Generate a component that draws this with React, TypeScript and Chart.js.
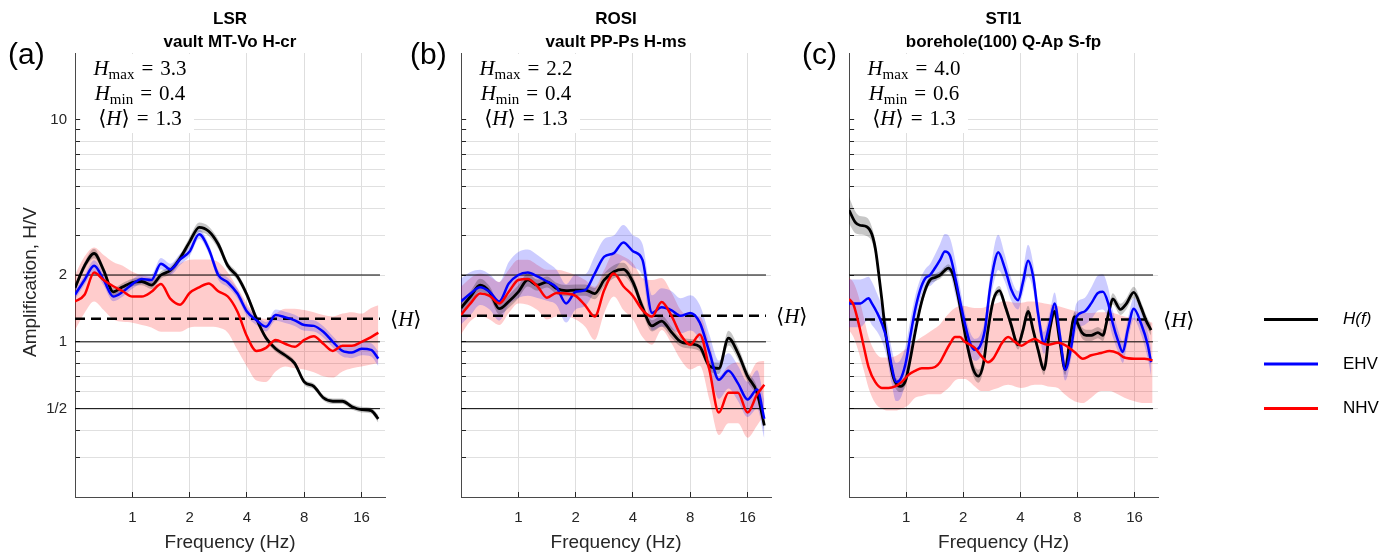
import React, { useEffect, useRef } from "react";
import { Chart, registerables } from "chart.js";
Chart.register(...registerables);

// ---------------- data ----------------
const gridFreq = [0.5, 0.561, 0.63, 0.707, 0.794, 0.891, 1.0, 1.122, 1.26, 1.414, 1.587, 1.782, 2.0, 2.245, 2.52, 2.828, 3.175, 3.564, 4.0, 4.49, 5.04, 5.66, 6.35, 7.13, 8.0, 8.98, 10.08, 11.31, 12.7, 14.25, 16.0, 17.96, 19.6];

// panel (a) LSR
const aBlack = [1.75, 2.2, 2.5, 2.1, 1.68, 1.77, 1.85, 1.87, 1.8, 2.0, 2.1, 2.38, 2.82, 3.28, 3.15, 2.75, 2.2, 1.97, 1.63, 1.27, 1.04, 0.93, 0.87, 0.8, 0.66, 0.63, 0.56, 0.54, 0.54, 0.51, 0.495, 0.49, 0.45];
const aBlackSpread = [1.04, 1.04, 1.05, 1.04, 1.04, 1.04, 1.04, 1.04, 1.04, 1.04, 1.04, 1.04, 1.05, 1.05, 1.05, 1.05, 1.04, 1.04, 1.04, 1.04, 1.03, 1.03, 1.03, 1.03, 1.03, 1.03, 1.03, 1.03, 1.03, 1.03, 1.03, 1.03, 1.04];
const aBlue = [1.63, 1.9, 2.2, 1.9, 1.6, 1.68, 1.82, 1.92, 1.9, 2.25, 2.12, 2.35, 2.55, 3.05, 2.62, 2.0, 1.85, 1.65, 1.37, 1.25, 1.17, 1.32, 1.29, 1.25, 1.19, 1.18, 1.11, 1.0, 0.91, 0.895, 0.93, 0.92, 0.84];
const aBlueSpread = [1.05, 1.05, 1.06, 1.06, 1.05, 1.05, 1.05, 1.05, 1.06, 1.06, 1.06, 1.06, 1.05, 1.05, 1.05, 1.05, 1.05, 1.05, 1.05, 1.05, 1.05, 1.06, 1.06, 1.06, 1.06, 1.06, 1.06, 1.06, 1.06, 1.06, 1.07, 1.07, 1.08];
const aRed = [1.52, 1.63, 2.05, 1.9, 1.78, 1.69, 1.6, 1.6, 1.68, 1.82, 1.56, 1.47, 1.66, 1.76, 1.83, 1.69, 1.6, 1.37, 1.06, 0.91, 0.94, 1.02, 0.98, 0.95, 1.02, 1.06, 0.98, 0.91, 0.96, 0.96, 1.0, 1.05, 1.1];
const aRedLo = [1.13, 1.35, 1.52, 1.39, 1.26, 1.23, 1.22, 1.19, 1.16, 1.11, 1.11, 1.11, 1.16, 1.17, 1.17, 1.16, 1.1, 0.92, 0.775, 0.67, 0.66, 0.735, 0.775, 0.76, 0.75, 0.73, 0.7, 0.69, 0.735, 0.76, 0.775, 0.79, 0.8];
const aRedHi = [2.0, 2.42, 2.66, 2.46, 2.29, 2.2, 2.07, 2.0, 1.96, 2.0, 2.1, 2.25, 2.34, 2.35, 2.35, 2.29, 2.05, 1.75, 1.49, 1.31, 1.27, 1.34, 1.41, 1.41, 1.39, 1.36, 1.32, 1.3, 1.34, 1.36, 1.34, 1.42, 1.46];

// panel (b) ROSI
const bBlack = [1.42, 1.6, 1.8, 1.68, 1.41, 1.52, 1.68, 1.9, 1.8, 1.86, 1.74, 1.7, 1.71, 1.71, 1.65, 1.9, 2.07, 2.12, 1.86, 1.43, 1.18, 1.24, 1.11, 1.0, 0.98, 0.95, 0.78, 0.76, 1.04, 0.89, 0.7, 0.59, 0.42];
const bBlackSpread = [1.06, 1.06, 1.07, 1.06, 1.06, 1.07, 1.07, 1.07, 1.06, 1.06, 1.06, 1.06, 1.06, 1.06, 1.06, 1.07, 1.07, 1.07, 1.06, 1.06, 1.06, 1.06, 1.06, 1.05, 1.05, 1.05, 1.05, 1.06, 1.08, 1.07, 1.06, 1.06, 1.06];
const bBlue = [1.52, 1.65, 1.76, 1.68, 1.52, 1.83, 2.0, 2.05, 1.97, 1.87, 1.76, 1.49, 1.68, 1.71, 2.03, 2.42, 2.51, 2.8, 2.56, 2.34, 1.35, 1.43, 1.39, 1.31, 1.35, 1.22, 0.9, 0.675, 0.74, 0.65, 0.55, 0.61, 0.45];
const bBlueSpread = [1.27, 1.25, 1.2, 1.2, 1.22, 1.25, 1.27, 1.27, 1.25, 1.22, 1.2, 1.22, 1.2, 1.18, 1.2, 1.2, 1.2, 1.2, 1.18, 1.18, 1.2, 1.22, 1.22, 1.2, 1.2, 1.2, 1.2, 1.22, 1.2, 1.2, 1.2, 1.22, 1.22];
const bRed = [1.32, 1.49, 1.65, 1.61, 1.49, 1.68, 1.9, 1.92, 1.78, 1.58, 1.66, 1.65, 1.61, 1.46, 1.3, 1.71, 2.03, 1.78, 1.61, 1.39, 1.3, 1.51, 1.32, 1.075, 0.97, 1.08, 0.75, 0.48, 0.59, 0.59, 0.48, 0.58, 0.64];
const bRedLo = [1.08, 1.24, 1.31, 1.26, 1.19, 1.35, 1.49, 1.47, 1.39, 1.26, 1.3, 1.3, 1.26, 1.17, 1.02, 1.35, 1.6, 1.39, 1.26, 1.05, 0.97, 1.13, 0.99, 0.83, 0.75, 0.78, 0.55, 0.38, 0.43, 0.43, 0.37, 0.42, 0.47];
const bRedHi = [1.77, 1.94, 2.03, 1.97, 1.86, 2.11, 2.34, 2.34, 2.22, 2.11, 2.11, 2.07, 2.0, 1.9, 1.77, 2.11, 2.51, 2.42, 2.26, 1.94, 1.9, 1.94, 1.68, 1.39, 1.3, 1.3, 0.99, 0.7, 0.78, 0.81, 0.7, 0.81, 0.82];

// panel (c) STI1
const cBlackFreq = [0.5, 0.54, 0.57, 0.62, 0.66, 0.69, 0.716, 0.745, 0.776, 0.808, 0.858, 0.93, 0.994, 1.05, 1.115, 1.185, 1.26, 1.337, 1.42, 1.51, 1.6, 1.67, 1.77, 1.88, 2.0, 2.125, 2.26, 2.4, 2.55, 2.7, 2.88, 3.1, 3.31, 3.56, 3.89, 4.13, 4.39, 4.67, 4.96, 5.33, 5.71, 6.06, 6.44, 6.9, 7.27, 7.72, 8.04, 8.44, 8.89, 9.45, 10.25, 10.88, 11.56, 12.28, 13.47, 14.43, 15.84, 17.3, 18.38, 19.53];
const cBlack = [3.92, 3.45, 3.35, 3.3, 3.05, 2.6, 2.05, 1.55, 1.13, 0.89, 0.69, 0.63, 0.67, 0.83, 1.1, 1.42, 1.71, 1.9, 1.95, 2.0, 2.1, 2.15, 2.0, 1.6, 1.2, 0.92, 0.75, 0.7, 0.79, 1.13, 1.54, 1.7, 1.47, 1.21, 0.97, 1.13, 1.37, 1.13, 0.92, 0.75, 1.13, 1.37, 1.02, 0.75, 1.0, 1.3, 1.2, 1.1, 1.07, 1.07, 1.1, 1.07, 1.3, 1.56, 1.4, 1.48, 1.67, 1.43, 1.25, 1.13];
const cBlackSpread = [1.15, 1.12, 1.1, 1.1, 1.08, 1.07, 1.06, 1.06, 1.06, 1.06, 1.06, 1.06, 1.06, 1.05, 1.05, 1.05, 1.05, 1.04, 1.04, 1.04, 1.04, 1.04, 1.04, 1.05, 1.05, 1.06, 1.07, 1.07, 1.06, 1.05, 1.05, 1.05, 1.05, 1.05, 1.05, 1.06, 1.06, 1.05, 1.05, 1.06, 1.05, 1.05, 1.05, 1.06, 1.05, 1.05, 1.05, 1.06, 1.06, 1.06, 1.06, 1.06, 1.06, 1.06, 1.06, 1.06, 1.06, 1.06, 1.06, 1.06];
const cBlueFreq = [0.5, 0.573, 0.634, 0.66, 0.701, 0.745, 0.792, 0.841, 0.883, 0.93, 0.994, 1.05, 1.115, 1.185, 1.26, 1.337, 1.42, 1.51, 1.6, 1.703, 1.81, 1.92, 2.04, 2.17, 2.3, 2.45, 2.6, 2.76, 2.93, 3.055, 3.31, 3.59, 3.89, 4.13, 4.39, 4.67, 4.96, 5.33, 5.71, 6.06, 6.44, 6.9, 7.42, 7.88, 8.72, 9.45, 10.25, 10.88, 11.56, 12.28, 13.04, 13.86, 14.72, 15.84, 17.3, 18.75, 19.53];
const cBlue = [1.49, 1.49, 1.57, 1.49, 1.36, 1.21, 1.02, 0.77, 0.66, 0.675, 0.8, 1.05, 1.39, 1.71, 1.93, 2.0, 2.15, 2.34, 2.55, 2.44, 1.97, 1.54, 1.21, 0.99, 0.92, 0.955, 1.13, 1.71, 2.3, 2.53, 2.15, 1.71, 1.54, 1.86, 2.32, 1.97, 1.34, 0.99, 1.21, 1.49, 1.09, 0.75, 0.95, 1.29, 1.37, 1.49, 1.66, 1.68, 1.51, 1.21, 1.02, 0.9, 1.13, 1.41, 1.21, 0.97, 0.81];
const cBlueSpread = [1.28, 1.28, 1.25, 1.25, 1.22, 1.2, 1.2, 1.2, 1.22, 1.22, 1.2, 1.18, 1.15, 1.12, 1.1, 1.12, 1.15, 1.18, 1.2, 1.2, 1.2, 1.15, 1.12, 1.12, 1.12, 1.12, 1.12, 1.15, 1.2, 1.2, 1.15, 1.12, 1.1, 1.12, 1.18, 1.15, 1.12, 1.12, 1.12, 1.12, 1.12, 1.12, 1.12, 1.15, 1.15, 1.18, 1.2, 1.2, 1.18, 1.15, 1.12, 1.12, 1.12, 1.12, 1.12, 1.15, 1.15];
const cRedFreq = [0.5, 0.528, 0.562, 0.597, 0.634, 0.687, 0.745, 0.808, 0.875, 0.949, 1.029, 1.115, 1.209, 1.31, 1.42, 1.51, 1.6, 1.703, 1.81, 1.92, 2.04, 2.17, 2.3, 2.5, 2.7, 2.876, 3.055, 3.18, 3.45, 3.74, 4.05, 4.39, 4.76, 5.16, 5.59, 6.31, 6.84, 7.72, 8.54, 9.45, 10.67, 11.8, 13.04, 14.14, 15.97, 18.0, 19.9];
const cRed = [1.56, 1.47, 1.21, 0.96, 0.77, 0.66, 0.62, 0.62, 0.63, 0.66, 0.71, 0.74, 0.76, 0.76, 0.77, 0.81, 0.89, 0.98, 1.05, 1.05, 1.0, 0.97, 0.94, 0.86, 0.81, 0.84, 0.92, 0.98, 1.05, 1.0, 0.96, 1.0, 1.03, 0.99, 0.97, 0.99, 0.97, 0.9, 0.84, 0.87, 0.89, 0.91, 0.89, 0.85, 0.84, 0.84, 0.825];
const cRedLo = [1.13, 1.05, 0.9, 0.75, 0.62, 0.53, 0.5, 0.49, 0.49, 0.5, 0.52, 0.56, 0.57, 0.58, 0.58, 0.58, 0.6, 0.63, 0.67, 0.68, 0.68, 0.66, 0.63, 0.6, 0.6, 0.61, 0.62, 0.63, 0.64, 0.63, 0.62, 0.63, 0.64, 0.64, 0.63, 0.62, 0.58, 0.54, 0.53, 0.56, 0.6, 0.6, 0.58, 0.56, 0.54, 0.53, 0.53];
const cRedHi = [1.95, 1.85, 1.6, 1.3, 1.05, 0.9, 0.85, 0.85, 0.86, 0.9, 0.95, 1.0, 1.05, 1.1, 1.15, 1.2, 1.28, 1.36, 1.42, 1.45, 1.45, 1.43, 1.42, 1.42, 1.45, 1.48, 1.5, 1.52, 1.52, 1.5, 1.5, 1.52, 1.52, 1.5, 1.48, 1.45, 1.42, 1.38, 1.35, 1.35, 1.36, 1.36, 1.33, 1.3, 1.28, 1.25, 1.22];

// axes / annotations
const xTickValues = [1, 2, 4, 8, 16];
const yTickValues = [0.3, 0.4, 0.5, 0.6, 0.7, 0.8, 0.9, 1, 2, 3, 4, 5, 6, 7, 8, 9, 10];
const yLabelled = [0.5, 1, 2, 10];
const referenceLevels = [0.5, 1, 2];
const meanLevels = [1.27, 1.31, 1.26];
const statsA = ["3.3", "0.4", "1.3"];
const statsB = ["2.2", "0.4", "1.3"];
const statsC = ["4.0", "0.6", "1.3"];
const legendLabels = ["H(f)", "EHV", "NHV"];

// ---------------- helpers ----------------
const SANS = "'Liberation Sans', Arial, Helvetica, sans-serif";
const SERIF = "'Liberation Serif', 'DejaVu Serif', 'Times New Roman', serif";
const MATH = 21;
const AXIS_COLOR = "#262626";

type Series = { f: number[]; v: number[]; lo: number[]; hi: number[] };
const spreadSeries = (f: number[], v: number[], sp: number[]): Series => ({
  f, v, lo: v.map((x, i) => x / sp[i]), hi: v.map((x, i) => x * sp[i]),
});
const bandSeries = (f: number[], v: number[], lo: number[], hi: number[]): Series => ({ f, v, lo, hi });
const pts = (f: number[], v: number[]) => f.map((x, i) => ({ x, y: v[i] }));

type Panel = {
  id: string; left: number; width: number; padRight: number; letter: string; letterX: number;
  title: string[]; stats: string[]; mean: number; showY: boolean; legend: boolean;
  black: Series; blue: Series; red: Series;
};

const panels: Panel[] = [
  {
    id: "a", left: 0, width: 455, padRight: 70, letter: "(a)", letterX: 8,
    title: ["LSR", "vault MT-Vo H-cr"], stats: statsA, mean: meanLevels[0], showY: true, legend: false,
    black: spreadSeries(gridFreq, aBlack, aBlackSpread),
    blue: spreadSeries(gridFreq, aBlue, aBlueSpread),
    red: bandSeries(gridFreq, aRed, aRedLo, aRedHi),
  },
  {
    id: "b", left: 386, width: 455, padRight: 70, letter: "(b)", letterX: 410,
    title: ["ROSI", "vault PP-Ps H-ms"], stats: statsB, mean: meanLevels[1], showY: false, legend: false,
    black: spreadSeries(gridFreq, bBlack, bBlackSpread),
    blue: spreadSeries(gridFreq, bBlue, bBlueSpread),
    red: bandSeries(gridFreq, bRed, bRedLo, bRedHi),
  },
  {
    id: "c", left: 774, width: 620, padRight: 236, letter: "(c)", letterX: 802,
    title: ["STI1", "borehole(100) Q-Ap S-fp"], stats: statsC, mean: meanLevels[2], showY: false, legend: true,
    black: spreadSeries(cBlackFreq, cBlack, cBlackSpread),
    blue: spreadSeries(cBlueFreq, cBlue, cBlueSpread),
    red: bandSeries(cRedFreq, cRed, cRedLo, cRedHi),
  },
];

type Part = { t: string; k: "i" | "r" | "s"; pl?: number; pr?: number };
function mathFont(k: string) {
  if (k === "i") return `italic ${MATH}px ${SERIF}`;
  if (k === "s") return `${Math.round(MATH * 0.72)}px ${SERIF}`;
  return `${MATH}px ${SERIF}`;
}
function drawMath(ctx: CanvasRenderingContext2D, x: number, baseline: number, parts: Part[], align: "center" | "left") {
  const ws = parts.map((p) => {
    ctx.font = mathFont(p.k);
    return ctx.measureText(p.t).width + (p.pl || 0) + (p.pr || 0);
  });
  const total = ws.reduce((a, b) => a + b, 0);
  let cx = align === "center" ? x - total / 2 : x;
  ctx.textAlign = "left";
  ctx.textBaseline = "alphabetic";
  ctx.fillStyle = "#000";
  parts.forEach((p, i) => {
    ctx.font = mathFont(p.k);
    ctx.fillText(p.t, cx + (p.pl || 0), baseline + (p.k === "s" ? 4 : 0));
    cx += ws[i];
  });
}

function makeDecor(p: Panel) {
  return {
    id: "decor" + p.id,
    beforeDatasetsDraw(chart: any) {
      const { ctx, chartArea: a } = chart;
      ctx.save();
      ctx.fillStyle = "#ffffff";
      ctx.fillRect(a.left + 6, a.top + 1, 113, 79);
      const cx = a.left + 65;
      drawMath(ctx, cx, a.top + 22, [{ t: "H", k: "i" }, { t: "max", k: "s" }, { t: "=", k: "r", pl: 7, pr: 7 }, { t: p.stats[0], k: "r" }], "center");
      drawMath(ctx, cx, a.top + 46.5, [{ t: "H", k: "i" }, { t: "min", k: "s" }, { t: "=", k: "r", pl: 7, pr: 7 }, { t: p.stats[1], k: "r" }], "center");
      drawMath(ctx, cx, a.top + 72, [{ t: "\u27E8", k: "r" }, { t: "H", k: "i" }, { t: "\u27E9", k: "r" }, { t: "=", k: "r", pl: 7, pr: 7 }, { t: p.stats[2], k: "r" }], "center");
      ctx.restore();
    },
    afterDraw(chart: any) {
      const { ctx, chartArea: a, scales } = chart;
      const mid = (a.left + a.right) / 2;
      ctx.save();
      // titles
      ctx.fillStyle = "#000";
      ctx.textAlign = "center";
      ctx.textBaseline = "middle";
      ctx.font = `bold 17px ${SANS}`;
      ctx.fillText(p.title[0], mid, 19.5);
      ctx.fillText(p.title[1], mid, 42);
      // panel letter
      ctx.textAlign = "left";
      ctx.font = `30px ${SANS}`;
      ctx.fillText(p.letter, p.letterX - p.left, 56);
      // x title
      ctx.fillStyle = AXIS_COLOR;
      ctx.textAlign = "center";
      ctx.font = `19px ${SANS}`;
      ctx.fillText("Frequency (Hz)", mid, 543);
      if (p.showY) {
        ctx.save();
        ctx.translate(31, 282);
        ctx.rotate(-Math.PI / 2);
        ctx.fillText("Amplification, H/V", 0, 0);
        ctx.restore();
      }
      // mean label
      const lx = scales.x.getPixelForValue(20) + 10;
      const ly = scales.y.getPixelForValue(p.mean);
      drawMath(ctx, lx, ly + 7, [{ t: "\u27E8", k: "r" }, { t: "H", k: "i" }, { t: "\u27E9", k: "r" }], "left");
      // legend
      if (p.legend) {
        const colors = ["#000000", "#0000ff", "#ff0000"];
        const ys = [319.5, 364, 408.5];
        legendLabels.forEach((lab, i) => {
          ctx.strokeStyle = colors[i];
          ctx.lineWidth = 3;
          ctx.beginPath();
          ctx.moveTo(a.right + 106, ys[i]);
          ctx.lineTo(a.right + 160, ys[i]);
          ctx.stroke();
          ctx.fillStyle = "#000";
          ctx.textAlign = "left";
          ctx.textBaseline = "middle";
          ctx.font = `${i === 0 ? "italic " : ""}17px ${SANS}`;
          ctx.fillText(lab, a.right + 185, ys[i]);
        });
      }
      ctx.restore();
    },
  };
}

function buildDatasets(p: Panel) {
  const ds: any[] = [];
  const base = { pointRadius: 0, pointHoverRadius: 0, cubicInterpolationMode: "monotone" };
  ds.push({ ...base, data: pts(p.red.f, p.red.v), borderColor: "#ff0000", borderWidth: 2.5, fill: false, order: 0 });
  ds.push({ ...base, data: pts(p.blue.f, p.blue.v), borderColor: "#0000ff", borderWidth: 2.5, fill: false, order: 1 });
  ds.push({ ...base, data: pts(p.black.f, p.black.v), borderColor: "#000000", borderWidth: 2.8, fill: false, order: 2 });
  ds.push({ data: [{ x: 0.5, y: p.mean }, { x: 20, y: p.mean }], borderColor: "#000", borderWidth: 2.5, borderDash: [10, 6], pointRadius: 0, fill: false, order: 3 });
  referenceLevels.forEach((r) => {
    ds.push({ data: [{ x: 0.5, y: r }, { x: 20, y: r }], borderColor: "#000", borderWidth: 1, pointRadius: 0, fill: false, order: 4 });
  });
  const bands: [Series, string][] = [
    [p.black, "rgba(0,0,0,0.22)"],
    [p.blue, "rgba(0,0,255,0.2)"],
    [p.red, "rgba(255,0,0,0.2)"],
  ];
  bands.forEach(([s, c], i) => {
    const hiIdx = ds.length;
    ds.push({ ...base, data: pts(s.f, s.hi), borderColor: "rgba(0,0,0,0)", borderWidth: 0, fill: false, order: 10 + i });
    ds.push({ ...base, data: pts(s.f, s.lo), borderColor: "rgba(0,0,0,0)", borderWidth: 0, fill: hiIdx, backgroundColor: c, order: 10 + i });
  });
  return ds;
}

function makeConfig(p: Panel): any {
  return {
    type: "line",
    data: { datasets: buildDatasets(p) },
    options: {
      responsive: false,
      animation: false,
      devicePixelRatio: 1,
      events: [],
      layout: { padding: { left: 0, right: p.padRight, top: 53, bottom: 0 } },
      plugins: { legend: { display: false }, tooltip: { enabled: false }, title: { display: false } },
      scales: {
        x: {
          type: "logarithmic",
          min: 0.5,
          max: 21.25,
          bounds: "data",
          afterBuildTicks: (s: any) => { s.ticks = xTickValues.map((v) => ({ value: v })); },
          afterFit: (s: any) => { s.height = 55; },
          ticks: {
            autoSkip: false, maxRotation: 0, padding: 17, color: AXIS_COLOR,
            font: { family: SANS, size: 15 },
            callback: (v: any) => String(v),
          },
          grid: { color: "#dedede", lineWidth: 1, drawTicks: true, tickLength: -5, tickColor: AXIS_COLOR, tickWidth: 1 },
          border: { display: true, color: "#4a4a4a", width: 1 },
        },
        y: {
          type: "logarithmic",
          min: 0.2,
          max: 20,
          bounds: "data",
          afterBuildTicks: (s: any) => { s.ticks = yTickValues.map((v) => ({ value: v })); },
          afterFit: (s: any) => { s.width = 75; },
          ticks: {
            autoSkip: false, padding: 13, color: AXIS_COLOR,
            font: { family: SANS, size: 15 },
            callback: (v: any) => {
              if (!p.showY || !yLabelled.includes(v)) return "";
              return v === 0.5 ? "1/2" : String(v);
            },
          },
          grid: { color: "#e0e0e0", lineWidth: 1, drawTicks: true, tickLength: -5, tickColor: AXIS_COLOR, tickWidth: 1 },
          border: { display: true, color: "#4a4a4a", width: 1 },
        },
      },
    },
    plugins: [makeDecor(p)],
  };
}

function PanelChart({ p }: { p: Panel }) {
  const ref = useRef<HTMLCanvasElement>(null);
  useEffect(() => {
    const chart = new Chart(ref.current as HTMLCanvasElement, makeConfig(p));
    return () => chart.destroy();
  }, [p]);
  return (
    <canvas
      ref={ref}
      width={p.width}
      height={552}
      style={{ position: "absolute", left: p.left, top: 0, width: p.width, height: 552 }}
    />
  );
}

export default function App() {
  return (
    <div style={{ position: "absolute", left: 0, top: 0, width: 1394, height: 552, background: "#fff", overflow: "hidden" }}>
      {panels.map((p) => (
        <PanelChart key={p.id} p={p} />
      ))}
    </div>
  );
}
